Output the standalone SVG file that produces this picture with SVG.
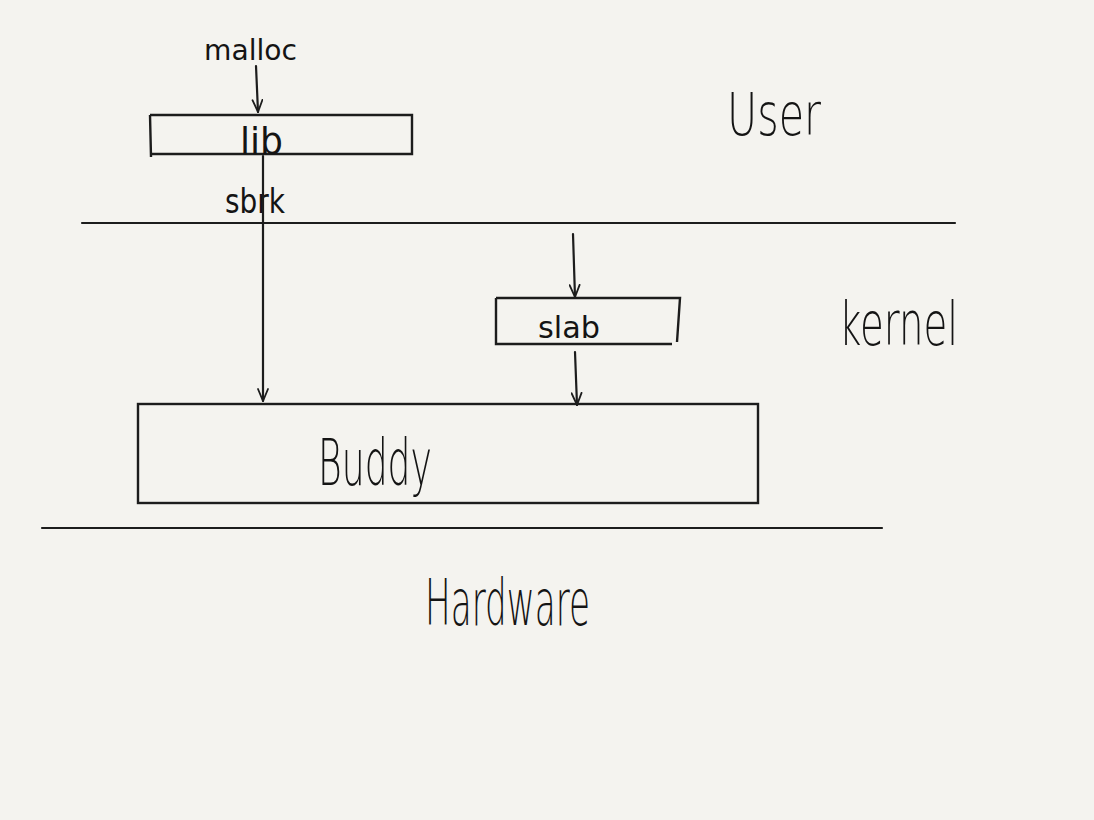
<svg xmlns="http://www.w3.org/2000/svg" width="1094" height="820" viewBox="0 0 1094 820">
<style>
.ln{stroke:#1c1c1c;stroke-width:2.2;fill:none;stroke-linecap:round}
.bx{stroke:#1c1c1c;stroke-width:2.4;fill:none}
.t{font-family:"DejaVu Sans","Liberation Sans",sans-serif;fill:#141414;font-weight:300}
.s{font-family:"DejaVu Sans","Liberation Sans",sans-serif;fill:#141414;font-weight:normal}
</style>
<defs>
<marker id="ah" viewBox="0 0 14 12" refX="13" refY="6" markerWidth="14" markerHeight="12" markerUnits="userSpaceOnUse" orient="auto">
<path d="M1,1 L13,6 L1,11" fill="none" stroke="#1c1c1c" stroke-width="1.8" stroke-linecap="round"/>
</marker>
</defs>
<rect width="1094" height="820" fill="#f4f3ef"/>
<g id="layers">
<line class="ln" x1="82" y1="223" x2="955" y2="223"/>
<line class="ln" x1="42" y1="528" x2="882" y2="528"/>
</g>
<g id="labels">
<text class="s" x="204" y="60" font-size="28" textLength="93" lengthAdjust="spacingAndGlyphs">malloc</text>
<text class="s" x="225" y="213" font-size="34" textLength="60" lengthAdjust="spacingAndGlyphs">sbrk</text>
<text class="t" x="727" y="135" font-size="58" textLength="94" lengthAdjust="spacingAndGlyphs">User</text>
<text class="t" x="839" y="345" font-size="60" textLength="119" lengthAdjust="spacingAndGlyphs">kernel</text>
<text class="t" x="425" y="625" font-size="64" textLength="165" lengthAdjust="spacingAndGlyphs">Hardware</text>
</g>
<g id="lib">
<path class="bx" d="M150,115 L412,115 L412,154 L152,154 M150,115 L151,157"/>
<text class="s" x="240" y="154" font-size="38" textLength="43" lengthAdjust="spacingAndGlyphs">lib</text>
</g>
<g id="slab">
<path class="bx" d="M496,298 L680,298 L677,342 M496,298 L496,344 L672,344"/>
<text class="s" x="538" y="338" font-size="30" textLength="62" lengthAdjust="spacingAndGlyphs">slab</text>
</g>
<g id="buddy">
<rect class="bx" x="138" y="404" width="620" height="99"/>
<text class="t" x="318" y="485" font-size="64" textLength="114" lengthAdjust="spacingAndGlyphs">Buddy</text>
</g>
<g id="connectors">
<line class="ln" x1="256" y1="66" x2="258" y2="112" marker-end="url(#ah)"/>
<line class="ln" x1="263" y1="156" x2="263" y2="401" marker-end="url(#ah)"/>
<line class="ln" x1="573" y1="234" x2="575" y2="297" marker-end="url(#ah)"/>
<line class="ln" x1="575" y1="352" x2="577" y2="405" marker-end="url(#ah)"/>
</g>
</svg>
